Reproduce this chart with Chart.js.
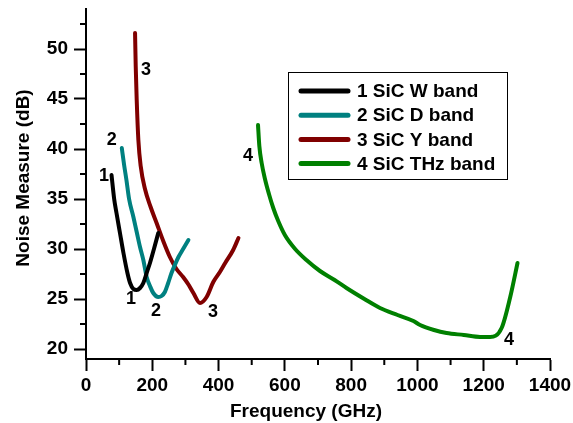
<!DOCTYPE html>
<html lang="en">
<head>
    <meta charset="UTF-8">
    <title>Noise Measure</title>
    <script src="https://cdn.jsdelivr.net/npm/chart.js"></script>
    <style>
        html, body { margin: 0; padding: 0; background: #fff; }
        #wrap { width: 573px; height: 423px; }
    </style>
</head>
<body>
<div id="wrap">
    <canvas id="noiseChart" width="573" height="423"></canvas>
</div>

<script>
    // GHz / dB
    const wFreq  = [77, 85, 92, 103, 113, 125, 133, 143, 153, 163, 173, 183, 193, 205, 218];
    const wNoise = [37.4, 35.0, 33.6, 31.5, 29.6, 27.6, 26.6, 26.0, 25.9, 26.1, 26.6, 27.6, 28.6, 30.0, 31.6];

    const dFreq  = [108, 115, 122, 130, 143, 153, 163, 173, 183, 193, 203, 218, 228, 238, 248, 258, 268, 279, 293, 309];
    const dNoise = [40.1, 38.4, 36.9, 35.0, 33.2, 31.7, 30.2, 28.9, 27.2, 26.3, 25.6, 25.2, 25.3, 25.7, 26.6, 27.6, 28.4, 29.2, 30.0, 30.9];

    const yFreq  = [148, 150, 153, 158, 165, 178, 195, 213, 233, 253, 273, 293, 310, 324, 344, 364, 384, 404, 420, 444, 460];
    const yNoise = [51.6, 48.3, 44.9, 40.9, 38.3, 36.0, 34.2, 32.6, 30.8, 29.2, 28.0, 27.2, 26.4, 25.6, 24.6, 25.2, 26.7, 27.7, 28.6, 29.9, 31.1];

    const thzFreq  = [519, 523, 530, 540, 552, 565, 580, 600, 631, 665, 706, 750, 786, 840, 887, 940, 988, 1008, 1050, 1088, 1140, 1189, 1219, 1254, 1280, 1302];
    const thzNoise = [42.4, 40.3, 38.6, 37.0, 35.5, 34.1, 32.8, 31.4, 30.0, 28.9, 27.8, 26.9, 26.1, 25.0, 24.1, 23.4, 22.8, 22.4, 21.9, 21.6, 21.4, 21.2, 21.2, 22.1, 25.2, 28.6];

    const seriesNames = ['1 SiC W band', '2 SiC D band', '3 SiC Y band', '4 SiC THz band'];
    const seriesColors = ['#000000', '#008080', '#800000', '#008000'];

    // curve labels: [text, freq, dB]
    const curveLabels = [
        ['1', 54, 37.3], ['1', 136, 25.0],
        ['2', 78, 40.9], ['2', 211, 23.8],
        ['3', 181, 47.9], ['3', 383, 23.7],
        ['4', 489, 39.3], ['4', 1276, 20.9]
    ];

    const xTicks = [0, 200, 400, 600, 800, 1000, 1200, 1400];
    const yTicks = [20, 25, 30, 35, 40, 45, 50];
    const xTitle = 'Frequency (GHz)';
    const yTitle = 'Noise Measure (dB)';

    const FONT = "'Liberation Sans', Arial, Helvetica, sans-serif";

    function pts(xs, ys) {
        return xs.map((x, i) => ({x: x, y: ys[i]}));
    }

    const extras = {
        id: 'extras',
        afterDraw(chart) {
            const ctx = chart.ctx;
            const xs = chart.scales.x, ys = chart.scales.y;
            const area = chart.chartArea;
            ctx.save();
            // minor ticks
            ctx.strokeStyle = '#000';
            ctx.lineWidth = 2;
            ctx.beginPath();
            for (let v = 100; v < 1400; v += 200) {
                const px = xs.getPixelForValue(v);
                ctx.moveTo(px, area.bottom);
                ctx.lineTo(px, area.bottom + 6);
            }
            for (let v = 22.5; v < 54; v += 5) {
                const py = ys.getPixelForValue(v);
                ctx.moveTo(area.left, py);
                ctx.lineTo(area.left - 6, py);
            }
            ctx.stroke();

            // axis titles
            ctx.fillStyle = '#000';
            ctx.font = 'bold 19px ' + FONT;
            ctx.textAlign = 'center';
            ctx.textBaseline = 'alphabetic';
            ctx.fillText(xTitle, 306, 417);
            ctx.save();
            ctx.translate(29, 178);
            ctx.rotate(-Math.PI / 2);
            ctx.fillText(yTitle, 0, 0);
            ctx.restore();

            // numbers on the curves
            ctx.font = 'bold 18px ' + FONT;
            ctx.textBaseline = 'middle';
            curveLabels.forEach(l => {
                ctx.fillText(l[0], xs.getPixelForValue(l[1]), ys.getPixelForValue(l[2]));
            });

            // legend box
            const bx = 288, by = 72, bw = 219, bh = 107;
            ctx.lineWidth = 1;
            ctx.strokeStyle = '#000';
            ctx.strokeRect(bx + 0.5, by + 0.5, bw, bh);
            ctx.font = 'bold 19px ' + FONT;
            ctx.textAlign = 'left';
            seriesNames.forEach((name, i) => {
                const yy = by + 19 + i * 24.2;
                ctx.strokeStyle = seriesColors[i];
                ctx.lineWidth = 5;
                ctx.lineCap = 'round';
                ctx.beginPath();
                ctx.moveTo(301, yy);
                ctx.lineTo(348, yy);
                ctx.stroke();
                ctx.fillStyle = '#000';
                ctx.fillText(name, 357, yy + 1);
            });
            ctx.restore();
        }
    };

    const datasets = [
        pts(wFreq, wNoise), pts(dFreq, dNoise), pts(yFreq, yNoise), pts(thzFreq, thzNoise)
    ].map((d, i) => ({
        label: seriesNames[i],
        data: d,
        showLine: true,
        borderColor: seriesColors[i],
        backgroundColor: seriesColors[i],
        borderWidth: 4,
        pointRadius: 0,
        cubicInterpolationMode: 'monotone',
        borderCapStyle: 'round',
        borderJoinStyle: 'round'
    }));

    const tickFont = {family: FONT, size: 19, weight: 'bold'};

    new Chart(document.getElementById('noiseChart'), {
        type: 'scatter',
        data: {datasets: datasets},
        plugins: [extras],
        options: {
            responsive: false,
            animation: false,
            layout: {padding: {top: 9, right: 23, left: 0, bottom: 0}},
            plugins: {
                legend: {display: false},
                tooltip: {enabled: false}
            },
            scales: {
                x: {
                    type: 'linear',
                    min: 0,
                    max: 1400,
                    afterBuildTicks: s => { s.ticks = xTicks.map(v => ({value: v})); },
                    afterFit: s => { s.height = 64; s.paddingLeft = 0; s.paddingRight = 0; },
                    border: {display: true, color: '#000', width: 2},
                    grid: {drawOnChartArea: false, tickLength: 12, tickColor: '#000', tickWidth: 2},
                    ticks: {color: '#000', font: tickFont, padding: 3, maxRotation: 0, callback: v => String(v)}
                },
                y: {
                    type: 'linear',
                    min: 19,
                    max: 54,
                    afterBuildTicks: s => { s.ticks = yTicks.map(v => ({value: v})); },
                    afterFit: s => { s.width = 86; s.paddingTop = 0; s.paddingBottom = 0; },
                    border: {display: true, color: '#000', width: 2},
                    grid: {drawOnChartArea: false, tickLength: 12, tickColor: '#000', tickWidth: 2},
                    ticks: {color: '#000', font: tickFont, padding: 6, callback: v => String(v)}
                }
            }
        }
    });
</script>
</body>
</html>
